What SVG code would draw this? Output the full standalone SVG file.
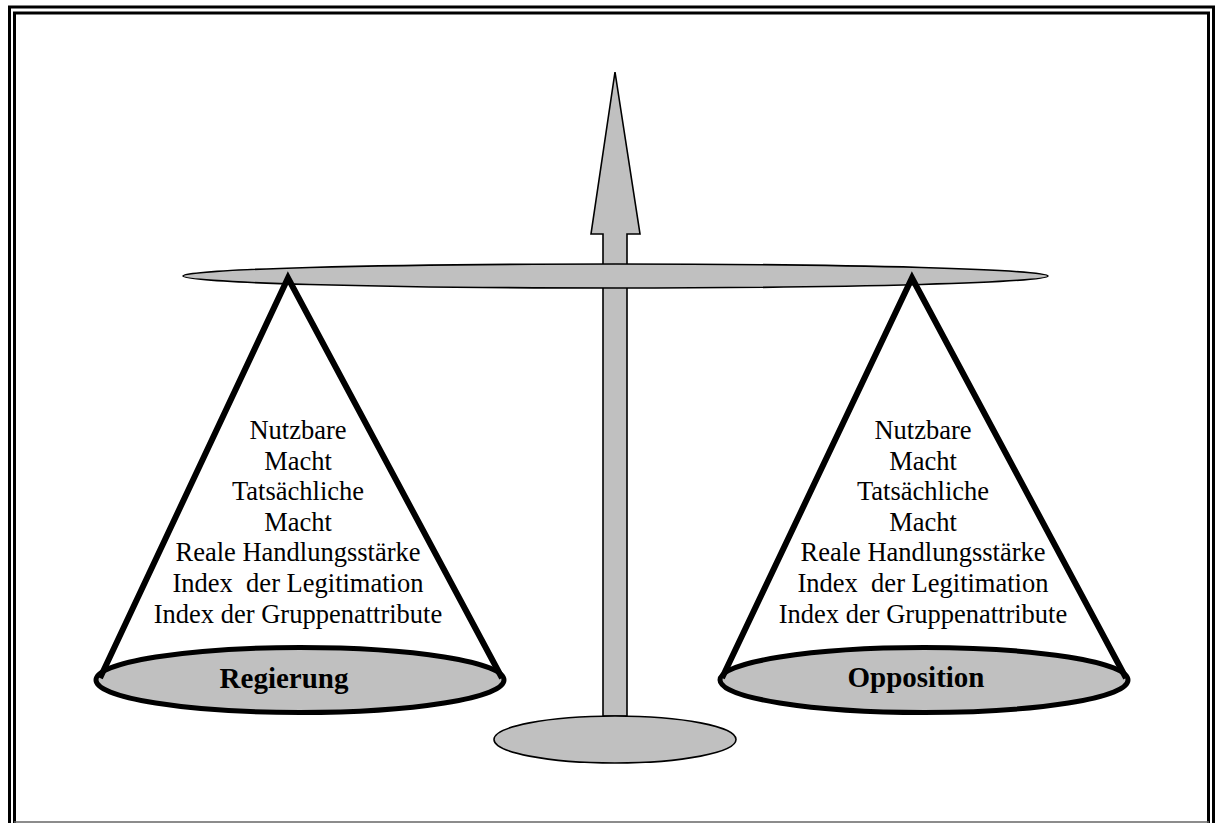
<svg xmlns="http://www.w3.org/2000/svg" width="1221" height="823" viewBox="0 0 1221 823">
<style>
.grey{fill:#c0c0c0;stroke:#000;stroke-width:1.6}
.pan{fill:#c0c0c0;stroke:#000;stroke-width:5}
.cone{fill:none;stroke:#000;stroke-width:6;stroke-linejoin:miter}
.lbl{font-family:"Liberation Serif","Times New Roman",serif;font-size:26.5px;fill:#000;text-anchor:middle;white-space:pre}
.title{font-family:"Liberation Serif","Times New Roman",serif;font-size:29px;font-weight:bold;fill:#000;text-anchor:middle}
</style>
<rect width="1221" height="823" fill="#fff"/>
<g id="frame" fill="none" stroke="#000">
<path d="M9.5,823 V7 H1213.5 V823" stroke-width="3"/>
<path d="M14.5,823 V13 H1208.5 V823" stroke-width="3"/>
<line x1="14" y1="822" x2="1209" y2="822" stroke="#666" stroke-width="1.5"/>
</g>
<g id="post">
<polygon class="grey" points="615,72 640,234 627,234 627,716 603,716 603,234 591,234"/>
</g>
<g id="base">
<ellipse class="grey" cx="615" cy="739.5" rx="121" ry="23.5"/>
</g>
<g id="beam">
<ellipse class="grey" cx="615.5" cy="276" rx="432.5" ry="12"/>
</g>
<g id="left-pan">
<ellipse class="pan" cx="300" cy="680" rx="204" ry="32.5"/>
<polyline class="cone" points="100,678 288,278 502,678"/>
<text class="lbl" x="298" y="439">Nutzbare</text>
<text class="lbl" x="298" y="469.6">Macht</text>
<text class="lbl" x="298" y="500.2">Tatsächliche</text>
<text class="lbl" x="298" y="530.8">Macht</text>
<text class="lbl" x="298" y="561.4">Reale Handlungsstärke</text>
<text class="lbl" x="298" y="592" xml:space="preserve">Index  der Legitimation</text>
<text class="lbl" x="298" y="622.6">Index der Gruppenattribute</text>
<text class="title" x="284" y="688">Regierung</text>
</g>
<g id="right-pan">
<ellipse class="pan" cx="924" cy="680" rx="204" ry="32.5"/>
<polyline class="cone" points="722,678 912,278 1126,678"/>
<text class="lbl" x="923" y="439">Nutzbare</text>
<text class="lbl" x="923" y="469.6">Macht</text>
<text class="lbl" x="923" y="500.2">Tatsächliche</text>
<text class="lbl" x="923" y="530.8">Macht</text>
<text class="lbl" x="923" y="561.4">Reale Handlungsstärke</text>
<text class="lbl" x="923" y="592" xml:space="preserve">Index  der Legitimation</text>
<text class="lbl" x="923" y="622.6">Index der Gruppenattribute</text>
<text class="title" x="916" y="687">Opposition</text>
</g>
</svg>
